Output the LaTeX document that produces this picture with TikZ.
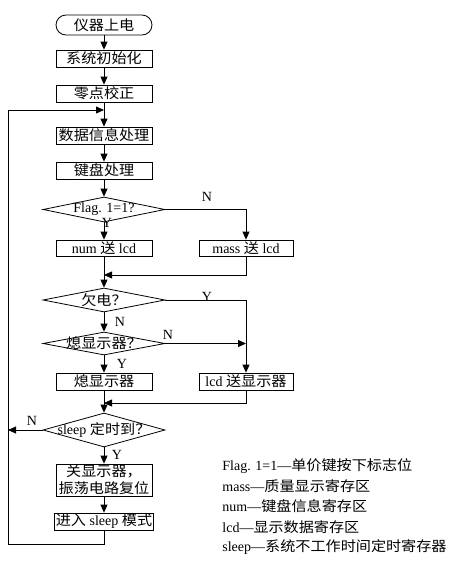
\documentclass[tikz,border=0pt]{standalone}
\usepackage{fontspec}
\setmainfont{Liberation Serif}
\newfontfamily\cjk{Noto Sans CJK SC}[FakeStretch=1.08]
\newcommand\zh[1]{{\cjk #1}}
\usetikzlibrary{arrows.meta,shapes.geometric}

\begin{document}
\begin{tikzpicture}[x=1pt,y=-1pt,>={Triangle[length=8pt,width=7pt]},line width=.8pt,font=\fontsize{14}{17}\selectfont,
 box/.style={draw,minimum width=96pt,minimum height=17pt,inner sep=1pt},
 dia/.style={draw,diamond,minimum width=122pt,minimum height=25pt,inner sep=0pt},
 lab/.style={inner sep=0pt}]
\useasboundingbox (0,0) rectangle (450,562);
% main column
\node[box,rounded corners=10pt,minimum height=20pt] (start) at (104,25){\zh{仪器上电}};
\node[box] (init) at (104,58.5){\zh{系统初始化}};\node[box] (zero) at (104,93.5){\zh{零点校正}};
\node[box] (data) at (104,135.5){\zh{数据信息处理}};\node[box] (key) at (104,170.5){\zh{键盘处理}};
\node[dia] (d1) at (104,209.5){};\node[lab] (d1t) at (d1){Flag. 1=1?};
\node[box,minimum height=16pt] (num) at (104,248){num \zh{送} lcd};\node[box,minimum width=94pt,minimum height=16pt] (mass) at (246,248){mass \zh{送} lcd};
\node[dia,minimum height=24pt] (d2) at (104,300){};\node[lab] (d2t) at (d2){\zh{欠电？}};
\node[dia,minimum height=23pt] (d3) at (104,343.5){};\node[lab] (d3t) at (d3){\zh{熄显示器？}};
\node[box] (off) at (104,381.5){\zh{熄显示器}};\node[box,minimum width=94pt] (lcd) at (246,381.5){lcd \zh{送显示器}};
\node[dia,minimum height=34pt] (d4) at (104,430){};\node[lab] (d4t) at (d4){sleep \zh{定时到？}};
\node[box,minimum height=32pt,align=center] (shut) at (104,480){\zh{关显示器，}\\\zh{振荡电路复位}};
\node[box] (slp) at (104,521.5){\zh{进入} sleep \zh{模式}};
% junctions
\coordinate (t1) at (104,110);\coordinate (m1) at (104,275);\coordinate (j1) at (246,343.5);\coordinate (m2) at (104,403);
\coordinate (l1) at (8,430);\coordinate (b1) at (8,544);
% connectors
\foreach \a/\b in {start/init,init/zero,zero/data,data/key,key/d1,d1/num,num/d2,d2/d3,d3/off,off/d4,d4/shut,shut/slp}{\draw[->] (\a.south)--(\b.north);}
\draw[->] (d1.east) -| (mass.north);\draw[->] (mass.south) |- (m1);
\draw[->] (d2.east) -| (lcd.north);\draw[->] (d3.east)--(j1);\draw[->] (lcd.south) |- (m2);
\draw[->] (d4.west)--(l1);\draw[->] (slp.south) |- (b1) |- (t1);
% branch labels
\node[lab] (n1) at (207,197){N};\node[lab] (y1) at (107,223){Y};
\node[lab] (y2) at (207,297){Y};\node[lab] (n2) at (120,322){N};
\node[lab] (n3) at (168,335){N};\node[lab] (y3) at (122,364){Y};
\node[lab] (n4) at (32,421){N};\node[lab] (y4) at (117,455){Y};
% legend
\foreach \t [count=\i from 0] in {Flag. 1=1—\zh{单价键按下标志位},mass—\zh{质量显示寄存区},num—\zh{键盘信息寄存区},lcd—\zh{显示数据寄存区},sleep—\zh{系统不工作时间定时寄存器}}{\node[lab,anchor=west] (leg\i) at (222,466+20.25*\i){\t};}
\end{tikzpicture}
\end{document}
